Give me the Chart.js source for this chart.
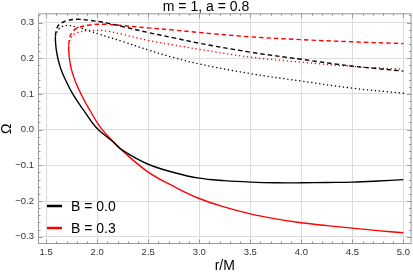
<!DOCTYPE html>
<html>
<head>
<meta charset="utf-8">
<script src="https://cdn.jsdelivr.net/npm/chart.js@4.4.1/dist/chart.umd.min.js"></script>
<style>
  html, body { margin: 0; padding: 0; background: #fff; }
  #wrap { width: 413px; height: 276px; }
</style>
</head>
<body>
<div id="wrap"><canvas id="omegaChart"></canvas></div>
<script>
// --- data (r/M, Omega) ---
const rB0Solid = [1.590, 1.592, 1.600, 1.613, 1.625, 1.650, 1.690, 1.760, 1.870, 1.990, 2.155, 2.250, 2.500, 2.750, 3.000, 3.250, 3.500, 3.750, 4.000, 4.250, 4.500, 4.750, 5.000];
const omB0Solid = [0.261, 0.244, 0.222, 0.202, 0.188, 0.165, 0.139, 0.100, 0.053, 0.006, -0.034, -0.058, -0.097, -0.120, -0.136, -0.143, -0.147, -0.149, -0.149, -0.148, -0.147, -0.144, -0.140];

const rB3Solid = [1.720, 1.7215, 1.727, 1.735, 1.750, 1.790, 1.850, 1.930, 2.030, 2.155, 2.250, 2.500, 2.750, 3.000, 3.250, 3.500, 3.750, 4.000, 4.250, 4.500, 4.750, 5.000];
const omB3Solid = [0.235, 0.220, 0.202, 0.186, 0.166, 0.132, 0.095, 0.053, 0.007, -0.033, -0.060, -0.119, -0.159, -0.193, -0.217, -0.236, -0.250, -0.261, -0.269, -0.276, -0.283, -0.289];

const rB0Dashed = [1.591, 1.600, 1.620, 1.650, 1.700, 1.800, 1.930, 2.090, 2.260, 2.500, 2.750, 3.000, 3.500, 4.000, 4.500, 5.000];
const omB0Dashed = [0.263, 0.280, 0.292, 0.299, 0.305, 0.309, 0.306, 0.299, 0.288, 0.272, 0.257, 0.242, 0.217, 0.197, 0.178, 0.164];

const rB0Dotted = [1.592, 1.610, 1.640, 1.700, 1.830, 1.930, 2.000, 2.260, 2.500, 2.750, 3.000, 3.500, 4.000, 4.500, 5.000];
const omB0Dotted = [0.263, 0.276, 0.286, 0.292, 0.285, 0.276, 0.269, 0.246, 0.223, 0.202, 0.184, 0.157, 0.136, 0.116, 0.102];

const rB3Dashed = [1.721, 1.730, 1.750, 1.800, 1.930, 2.090, 2.260, 2.500, 2.750, 3.000, 3.500, 4.000, 4.500, 5.000];
const omB3Dashed = [0.238, 0.258, 0.271, 0.284, 0.293, 0.295, 0.291, 0.285, 0.279, 0.272, 0.260, 0.252, 0.246, 0.241];

const rB3Dotted = [1.722, 1.735, 1.760, 1.800, 1.930, 2.090, 2.260, 2.500, 2.750, 3.000, 3.500, 4.000, 4.500, 5.000];
const omB3Dotted = [0.238, 0.252, 0.264, 0.271, 0.278, 0.276, 0.266, 0.250, 0.237, 0.225, 0.203, 0.189, 0.177, 0.169];

const xTicks = [1.5, 2.0, 2.5, 3.0, 3.5, 4.0, 4.5, 5.0];
const yTicks = [-0.3, -0.2, -0.1, 0.0, 0.1, 0.2, 0.3];
const legendLabels = ['B = 0.0', 'B = 0.3'];

const pts = (r, om) => r.map((x, i) => ({ x: x, y: om[i] }));
const fmt = v => v.toFixed(1).replace('-', '\u2212');

const BLACK = '#000000';
const RED = '#ff0000';

const lineBase = {
    showLine: true, pointRadius: 0, borderWidth: 1.4, fill: false, tension: 0.4
};

// frame with inward ticks (Mathematica style)
const framePlugin = {
    id: 'frame',
    afterDatasetsDraw(chart) {
        const { ctx, chartArea: a, scales: { x, y } } = chart;
        ctx.save();
        ctx.strokeStyle = '#9a9a9a';
        ctx.lineWidth = 1;
        ctx.strokeRect(a.left + 0.5, a.top + 0.5, a.right - a.left - 1, a.bottom - a.top - 1);
        ctx.beginPath();
        for (let i = 14; i <= 51; i++) {
            const v = i / 10;
            const px = Math.round(x.getPixelForValue(v)) + 0.5;
            if (px < a.left || px > a.right) continue;
            const len = (i % 5 === 0) ? 4.5 : 2.5;
            ctx.moveTo(px, a.bottom); ctx.lineTo(px, a.bottom - len);
            ctx.moveTo(px, a.top); ctx.lineTo(px, a.top + len);
        }
        for (let i = -16; i <= 16; i++) {
            const v = i / 50;
            const py = Math.round(y.getPixelForValue(v)) + 0.5;
            if (py < a.top || py > a.bottom) continue;
            const len = (i % 5 === 0) ? 4.5 : 2.5;
            ctx.moveTo(a.left, py); ctx.lineTo(a.left + len, py);
            ctx.moveTo(a.right, py); ctx.lineTo(a.right - len, py);
        }
        ctx.stroke();
        ctx.restore();
    }
};

// legend drawn inside the plot, bottom-left
const innerLegend = {
    id: 'innerLegend',
    afterDraw(chart) {
        const ctx = chart.ctx;
        const colors = [BLACK, RED];
        ctx.save();
        ctx.font = '14px "Liberation Sans", Arial, sans-serif';
        ctx.textBaseline = 'middle';
        legendLabels.forEach((lab, i) => {
            const yy = 206 + i * 22;
            ctx.strokeStyle = colors[i];
            ctx.lineWidth = 2.5;
            ctx.beginPath();
            ctx.moveTo(47, yy); ctx.lineTo(62, yy);
            ctx.stroke();
            ctx.fillStyle = '#000';
            ctx.fillText(lab, 71, yy + 1);
        });
        ctx.restore();
    }
};

new Chart(document.getElementById('omegaChart'), {
    type: 'scatter',
    data: {
        datasets: [
            { ...lineBase, label: legendLabels[0], data: pts(rB0Solid, omB0Solid), borderColor: BLACK },
            { ...lineBase, label: legendLabels[1], data: pts(rB3Solid, omB3Solid), borderColor: RED },
            { ...lineBase, label: 'B0 dashed', data: pts(rB0Dashed, omB0Dashed), borderColor: BLACK, borderDash: [4.5, 3] },
            { ...lineBase, label: 'B3 dashed', data: pts(rB3Dashed, omB3Dashed), borderColor: RED, borderDash: [4.5, 3] },
            { ...lineBase, label: 'B0 dotted', data: pts(rB0Dotted, omB0Dotted), borderColor: BLACK, borderDash: [0.01, 4], borderCapStyle: 'round', borderWidth: 1.5 },
            { ...lineBase, label: 'B3 dotted', data: pts(rB3Dotted, omB3Dotted), borderColor: RED, borderDash: [0.01, 4], borderCapStyle: 'round', borderWidth: 1.5 }
        ]
    },
    options: {
        responsive: true, maintainAspectRatio: false, animation: false,
        layout: { padding: { top: 1, right: 1, left: 0, bottom: 0 } },
        plugins: {
            legend: { display: false },
            tooltip: { enabled: false },
            title: {
                display: true, text: 'm = 1, a = 0.8', color: '#000',
                font: { family: '"Liberation Sans", Arial, sans-serif', size: 14, weight: 'normal', lineHeight: 0.88 },
                padding: { top: 0, bottom: 0 }
            }
        },
        scales: {
            x: {
                type: 'linear', min: 1.42, max: 5.08,
                afterBuildTicks: s => { s.ticks = xTicks.map(v => ({ value: v })); },
                afterFit: s => { s.height = 32; },
                grid: { color: '#dcdcdc', drawTicks: false },
                border: { display: false },
                ticks: {
                    color: '#333', padding: 3, maxRotation: 0,
                    font: { family: '"Liberation Sans", Arial, sans-serif', size: 9.5 },
                    callback: v => fmt(v)
                },
                title: {
                    display: true, text: 'r/M', color: '#000',
                    font: { family: '"Liberation Sans", Arial, sans-serif', size: 14 },
                    padding: { top: 0, bottom: 1 }
                }
            },
            y: {
                type: 'linear', min: -0.3204, max: 0.3258,
                afterBuildTicks: s => { s.ticks = yTicks.map(v => ({ value: v })); },
                afterFit: s => { s.width = 38; },
                grid: { color: '#dcdcdc', drawTicks: false },
                border: { display: false },
                ticks: {
                    color: '#333', padding: 4,
                    font: { family: '"Liberation Sans", Arial, sans-serif', size: 9.5 },
                    callback: v => fmt(v)
                },
                title: {
                    display: true, text: '\u03A9', color: '#000',
                    font: { family: '"Liberation Sans", Arial, sans-serif', size: 14, lineHeight: 1 },
                    padding: { top: 0, bottom: 0 }
                }
            }
        }
    },
    plugins: [framePlugin, innerLegend]
});
</script>
</body>
</html>
